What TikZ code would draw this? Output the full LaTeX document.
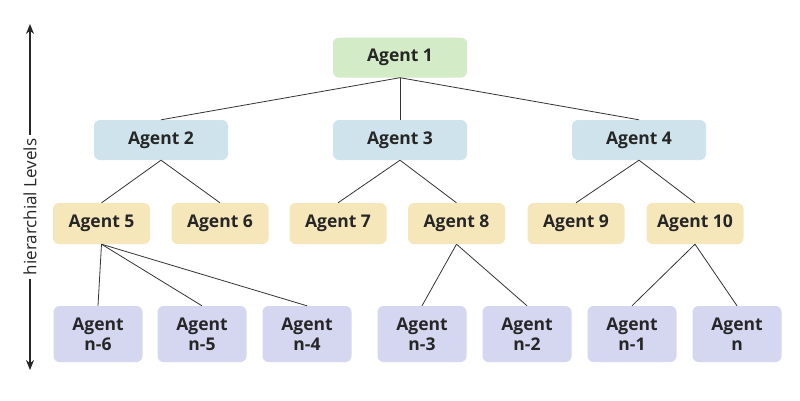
\documentclass[tikz,border=0pt]{standalone}
\usepackage{fontspec}
\setmainfont{Open Sans}
\usetikzlibrary{arrows.meta}
\definecolor{topgreen}{HTML}{D3EBC6}
\definecolor{midblue}{HTML}{CFE3EC}
\definecolor{lowyellow}{HTML}{F6E7BA}
\definecolor{leafviolet}{HTML}{D5D7F1}
\tikzset{
  agent/.style={rounded corners=6pt, font=\fontsize{17.5}{19}\selectfont\bfseries, text=black!85, align=center, inner sep=0pt},
  lvlone/.style={agent, fill=topgreen, minimum width=134pt, minimum height=40pt},
  lvltwo/.style={agent, fill=midblue, minimum width=134pt, minimum height=40pt},
  lvlthree/.style={agent, fill=lowyellow, minimum width=97pt, minimum height=41pt},
  lvlfour/.style={agent, fill=leafviolet, minimum width=89pt, minimum height=56pt, font=\fontsize{17.5}{20}\selectfont\bfseries},
  link/.style={draw=black!80, line width=0.8pt}
}
\begin{document}
\begin{tikzpicture}[x=1pt, y=-1pt]
\useasboundingbox (0,0) rectangle (800,400);
\fill[white] (0,0) rectangle (800,400);

\node[lvlone] (a1) at (400,57.5) {Agent 1};
\node[lvltwo] (a2) at (161,140) {Agent 2};
\node[lvltwo] (a3) at (400,140) {Agent 3};
\node[lvltwo] (a4) at (639,140) {Agent 4};

\node[lvlthree] (a5)  at (101.5,223.5) {Agent 5};
\node[lvlthree] (a6)  at (220,223.5) {Agent 6};
\node[lvlthree] (a7)  at (338,223.5) {Agent 7};
\node[lvlthree] (a8)  at (456.5,223.5) {Agent 8};
\node[lvlthree] (a9)  at (576,223.5) {Agent 9};
\node[lvlthree] (a10) at (695,223.5) {Agent 10};

\node[lvlfour] (n6) at (98,334)  {Agent\\n-6};
\node[lvlfour] (n5) at (202,334) {Agent\\n-5};
\node[lvlfour] (n4) at (307,334) {Agent\\n-4};
\node[lvlfour] (n3) at (422,334) {Agent\\n-3};
\node[lvlfour] (n2) at (527,334) {Agent\\n-2};
\node[lvlfour] (n1) at (632,334) {Agent\\n-1};
\node[lvlfour] (nn) at (737,334) {Agent\\n};

\foreach \c in {a2,a3,a4}
  \draw[link] (a1.south) -- (\c.north);
\draw[link] (a2.south) -- (a5.north);
\draw[link] (a2.south) -- (a6.north);
\draw[link] (a3.south) -- (a7.north);
\draw[link] (a3.south) -- (a8.north);
\draw[link] (a4.south) -- (a9.north);
\draw[link] (a4.south) -- (a10.north);
\foreach \c in {n6,n5,n4}
  \draw[link] (a5.south) -- (\c.north);
\draw[link] (a8.south) -- (n3.north);
\draw[link] (a8.south) -- (n2.north);
\draw[link] (a10.south) -- (n1.north);
\draw[link] (a10.south) -- (nn.north);

% level axis
\coordinate (axtop) at (30,24);
\coordinate (axbot) at (30,370);
\draw[black!85, line width=1.4pt, {Stealth[length=10pt,width=8pt]}-{Stealth[length=10pt,width=8pt]}] (axtop) -- (axbot);
\node[fill=white, rotate=90, inner sep=4pt, font=\fontsize{17}{19}\selectfont, text=black!85] (axlbl) at (30,207) {hierarchial Levels};
\end{tikzpicture}
\end{document}
